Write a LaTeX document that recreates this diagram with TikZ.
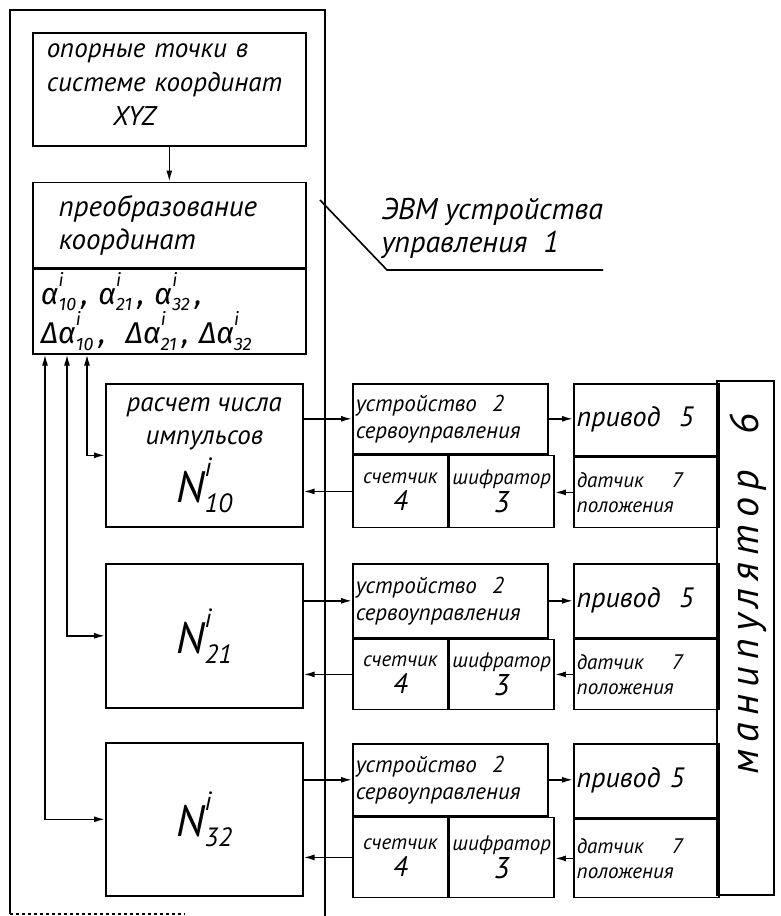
\documentclass[tikz,border=0pt]{standalone}
\usepackage{fontspec}
\usepackage{graphicx}
\setmainfont{PT Sans}
\newfontfamily\greekfont{Fira Sans}
\newcommand{\varsym}[3]{#1\rlap{\raisebox{0.6em}{\scalebox{0.6}{#2}}}\raisebox{-0.22em}{\scalebox{0.6}{#3}}}
\usetikzlibrary{arrows.meta, positioning}
\tikzset{
	blk/.style={rectangle, draw, line width=1.6pt, inner sep=3pt, align=center, font=\itshape\fontsize{27}{33}\selectfont},
	sbox/.style={rectangle, draw, line width=1.6pt, inner sep=3pt, align=center, font=\itshape\fontsize{21}{25}\selectfont},
	frame/.style={line width=1.6pt},
	sig/.style={-{Latex[length=11pt, width=6pt]}, line width=1.6pt},
	dsig/.style={{Latex[length=11pt, width=6pt]}-{Latex[length=11pt, width=6pt]}, line width=1.6pt},
}

\begin{document}
\begin{tikzpicture}[x=1pt, y=-1pt]
	\useasboundingbox (0,0) rectangle (780,916);
	% computer of the control unit
	\draw[frame] (10,914) -- (10,10) -- (325,10) -- (325,916);
	\draw[frame, dashed] (10,914) -- (185,914);
	\node[blk, font=\itshape\fontsize{27}{34}\selectfont, text width=245pt, inner xsep=14pt, minimum height=113pt, align=left, anchor=north west] (ref) at (32,32) {\\[-30pt]опорные точки в\\системе координат\\\hspace*{66pt}XYZ};
	\node[blk, font=\itshape\fontsize{29}{33}\selectfont, text width=221pt, inner xsep=26pt, minimum height=85pt, align=left, below=35pt of ref] (conv) {преобразование\\координат};
	\node[blk, font=\itshape\fontsize{30}{36}\selectfont, text width=257pt, inner xsep=8pt, minimum height=83pt, align=left, below=0pt of conv] (ang) {\varsym{\greekfont α}{i}{10}\,, \varsym{\greekfont α}{i}{21}\,, \varsym{\greekfont α}{i}{32}\,,\\\varsym{\greekfont Δα}{i}{10}\,, \ \varsym{\greekfont Δα}{i}{21}\,, \varsym{\greekfont Δα}{i}{32}};
	\node[blk, minimum width=197pt, minimum height=143pt, anchor=north west] (n10) at (105,383) {расчет числа\\импульсов\\[6pt]{\fontsize{44}{44}\selectfont\varsym{N}{i}{10}}};
	\node[blk, font=\itshape\fontsize{44}{44}\selectfont, minimum width=197pt, minimum height=144pt, anchor=north west] (n21) at (105,563) {\varsym{N}{i}{21}};
	\node[blk, font=\itshape\fontsize{44}{44}\selectfont, minimum width=197pt, minimum height=153pt, anchor=north west] (n32) at (105,742) {\varsym{N}{i}{32}};
	% label
	\node[align=left, font=\itshape\fontsize{30}{33}\selectfont, anchor=west] (evm) at (378,228) {ЭВМ устройства\\управления \ 1};
	\coordinate (lead) at (320,200);
	\coordinate (bend) at (387,270);
	\draw[frame] (lead) -- (bend) -- (603,270);
	% servo control units
	\node[sbox, font=\itshape\fontsize{23}{27}\selectfont, text width=189pt, minimum height=70pt, align=left, anchor=north west] (sv1) at (352,383) {устройство \ 2\\сервоуправления};
	\node[sbox, minimum width=95pt, minimum height=72pt, below right=0pt and 0pt of sv1.south west] (cnt1) {счетчик\\[2pt]{\fontsize{28}{28}\selectfont 4}};
	\node[sbox, minimum width=100pt, minimum height=72pt, right=0pt of cnt1] (enc1) {шифратор\\[2pt]{\fontsize{30}{30}\selectfont 3}};
	\node[sbox, font=\itshape\fontsize{23}{27}\selectfont, text width=189pt, minimum height=74pt, align=left, anchor=north west] (sv2) at (352,563) {устройство \ 2\\сервоуправления};
	\node[sbox, minimum width=95pt, minimum height=70pt, below right=0pt and 0pt of sv2.south west] (cnt2) {счетчик\\[2pt]{\fontsize{28}{28}\selectfont 4}};
	\node[sbox, minimum width=100pt, minimum height=70pt, right=0pt of cnt2] (enc2) {шифратор\\[2pt]{\fontsize{30}{30}\selectfont 3}};
	\node[sbox, font=\itshape\fontsize{23}{27}\selectfont, text width=189pt, minimum height=72pt, align=left, anchor=north west] (sv3) at (352,743) {устройство \ 2\\сервоуправления};
	\node[sbox, minimum width=95pt, minimum height=80pt, below right=0pt and 0pt of sv3.south west] (cnt3) {счетчик\\[2pt]{\fontsize{28}{28}\selectfont 4}};
	\node[sbox, minimum width=100pt, minimum height=80pt, right=0pt of cnt3] (enc3) {шифратор\\[2pt]{\fontsize{30}{30}\selectfont 3}};
	% drives and sensors
	\node[sbox, font=\itshape\fontsize{28}{30}\selectfont, text width=139pt, minimum height=72pt, align=left, anchor=north west] (dr1) at (573,383) {привод \ 5};
	\node[sbox, text width=139pt, minimum height=70pt, align=left, below=0pt of dr1] (ds1) {датчик \quad 7\\положения};
	\node[sbox, font=\itshape\fontsize{28}{30}\selectfont, text width=139pt, minimum height=74pt, align=left, anchor=north west] (dr2) at (573,563) {привод \ 5};
	\node[sbox, text width=139pt, minimum height=70pt, align=left, below=0pt of dr2] (ds2) {датчик \quad 7\\положения};
	\node[sbox, font=\itshape\fontsize{28}{30}\selectfont, text width=139pt, minimum height=74pt, align=left, anchor=north west] (dr3) at (573,743) {привод 5};
	\node[sbox, text width=139pt, minimum height=78pt, align=left, below=0pt of dr3] (ds3) {датчик \quad 7\\положения};
	\node[sbox, minimum width=57pt, minimum height=514pt] (man) at (745.5,638) {};
	\node[rotate=90, font=\itshape\fontsize{40}{40}\selectfont\addfontfeature{LetterSpace=18}] (manlbl) at ([xshift=3pt, yshift=44pt]man.center) {манипулятор \ 6};
	% connections
	\draw[sig] (ref) -- (conv);
	\draw[dsig] (n10.west) -| ([xshift=55pt]ang.south west);
	\draw[dsig] (n21.west) -| ([xshift=35pt]ang.south west);
	\draw[dsig] (n32.west) -| ([xshift=13pt]ang.south west);
	\draw[sig] (n10.east |- sv1.west) -- (sv1.west);
	\draw[sig] (cnt1.west) -- (n10.east |- cnt1.west);
	\draw[sig] (n21.east |- sv2.west) -- (sv2.west);
	\draw[sig] (cnt2.west) -- (n21.east |- cnt2.west);
	\draw[sig] (n32.east |- sv3.west) -- (sv3.west);
	\draw[sig] (cnt3.west) -- (n32.east |- cnt3.west);
	\draw[sig] (sv1.east) -- (sv1.east -| dr1.west);
	\draw[sig] (ds1.west) -- (ds1.west -| enc1.east);
	\draw[sig] (sv2.east) -- (sv2.east -| dr2.west);
	\draw[sig] (ds2.west) -- (ds2.west -| enc2.east);
	\draw[sig] (sv3.east) -- (sv3.east -| dr3.west);
	\draw[sig] (ds3.west) -- (ds3.west -| enc3.east);
\end{tikzpicture}
\end{document}
